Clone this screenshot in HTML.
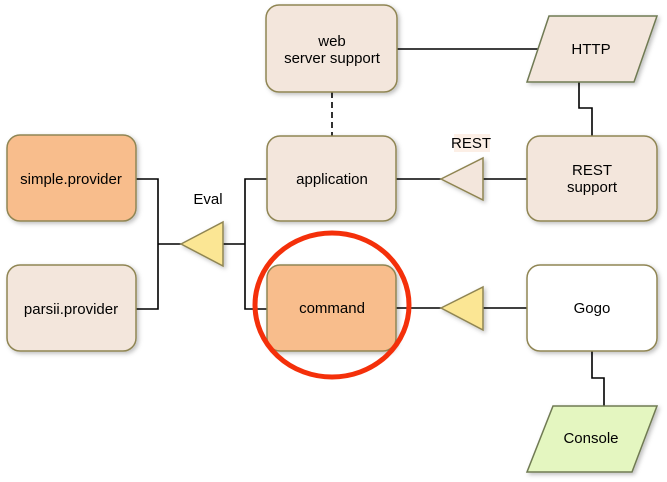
<!DOCTYPE html>
<html><head><meta charset="utf-8"><style>
html,body{margin:0;padding:0;background:#fff;}
svg{display:block;}
</style></head><body>
<svg width="667" height="482" viewBox="0 0 667 482" xmlns="http://www.w3.org/2000/svg">
<defs>
<filter id="sh" x="-10%" y="-10%" width="130%" height="130%"><feDropShadow dx="2" dy="2" stdDeviation="2" flood-color="#000" flood-opacity="0.25"/></filter>
</defs>
<g fill="none" stroke="#000" stroke-width="1.6">
<polyline points="136,179 158,179 158,309 136,309"/>
<line x1="158" y1="244" x2="181" y2="244"/>
<polyline points="267,179 245,179 245,309 267,309"/>
<line x1="223" y1="244" x2="245" y2="244"/>
<line x1="396" y1="179" x2="441" y2="179"/>
<line x1="483" y1="179" x2="527" y2="179"/>
<line x1="396" y1="308" x2="441" y2="308"/>
<line x1="483" y1="308" x2="527" y2="308"/>
<line x1="397" y1="49" x2="539" y2="49"/>
<polyline points="579,82 579,108 592,108 592,136"/>
<polyline points="592,351 592,378 604,378 604,406"/>
<line x1="332" y1="92" x2="332" y2="136" stroke-dasharray="6,4"/>
</g>
<g stroke="#8f8552" stroke-width="1.5" filter="url(#sh)">
<rect x="266" y="5" width="131" height="87" rx="13" fill="#f3e6dc"/>
<rect x="267" y="136" width="129" height="85" rx="13" fill="#f3e6dc"/>
<rect x="527" y="136" width="130" height="85" rx="13" fill="#f3e6dc"/>
<rect x="7" y="135" width="129" height="86" rx="13" fill="#f8bd8c"/>
<rect x="7" y="265" width="129" height="86" rx="13" fill="#f3e6dc"/>
<rect x="267" y="265" width="129" height="86" rx="13" fill="#f8bd8c"/>
<rect x="527" y="265" width="130" height="86" rx="13" fill="#ffffff"/>
<polygon points="549,16 657,16 634,82 527,82" fill="#f3e6dc" stroke="#6f7a52"/>
<polygon points="553,406 657,406 632,472 527,472" fill="#e4f6c0" stroke="#6f7a52"/>
<polygon points="441,179 483,158 483,200" fill="#f3e6dc"/>
<polygon points="181,244 223,222 223,266" fill="#fbe694"/>
<polygon points="441,308 483,287 483,330" fill="#fbe694"/>
</g>
<ellipse cx="332" cy="305" rx="77" ry="72" fill="none" stroke="#f4300a" stroke-width="5"/>
<g font-family="Liberation Sans, sans-serif" font-size="15" fill="#000" text-anchor="middle">
<text x="332" y="46">web</text>
<text x="332" y="63">server support</text>
<text x="591" y="54">HTTP</text>
<text x="332" y="184">application</text>
<text x="592" y="175">REST</text>
<text x="592" y="192">support</text>
<rect x="454" y="134" width="36" height="18" fill="#fcefe6"/>
<text x="471" y="148">REST</text>
<text x="208" y="204">Eval</text>
<text x="71" y="184">simple.provider</text>
<text x="71" y="314">parsii.provider</text>
<text x="332" y="313">command</text>
<text x="592" y="313">Gogo</text>
<text x="591" y="443">Console</text>
</g>
</svg>
</body></html>
